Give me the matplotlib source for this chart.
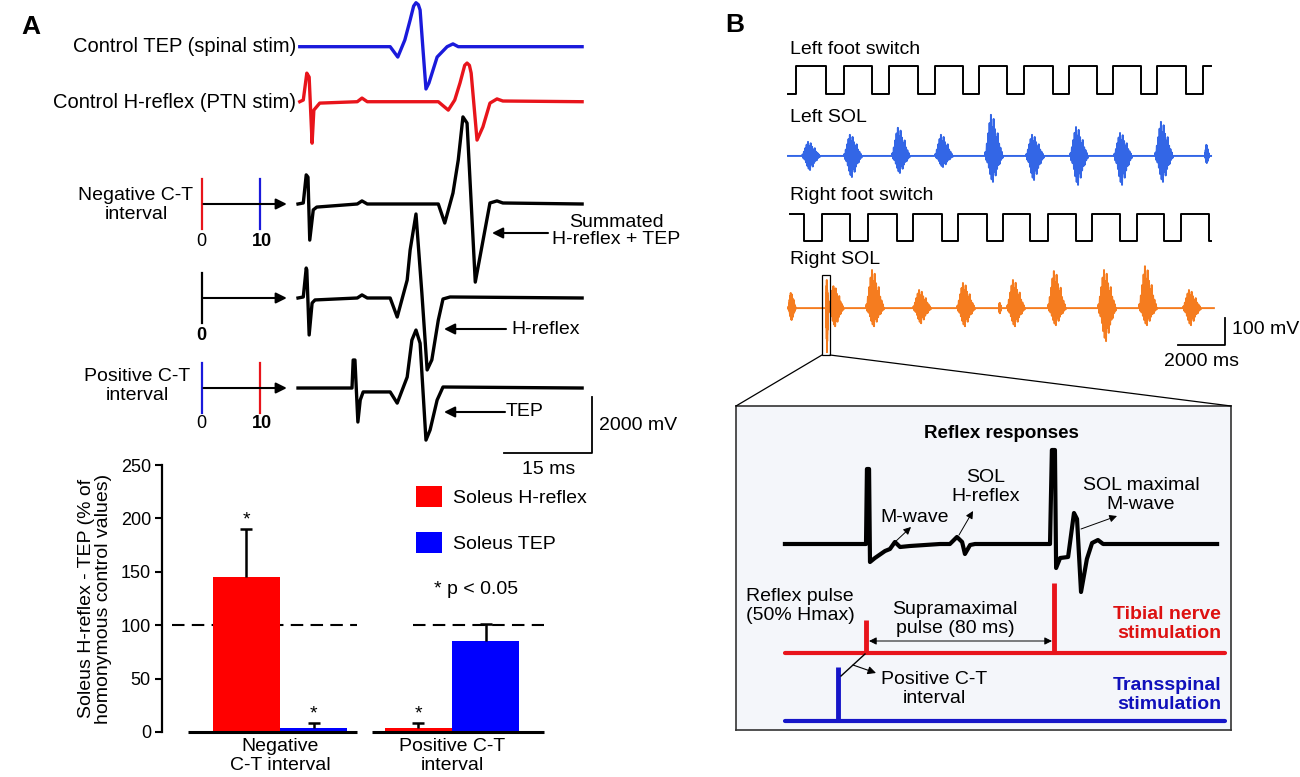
import matplotlib
matplotlib.use("Agg")
import matplotlib.pyplot as plt
import numpy as np
from matplotlib.patches import Rectangle, ConnectionPatch

plt.rcParams["font.family"] = ["Liberation Sans", "DejaVu Sans"]
plt.rcParams["font.size"] = 14

W, H = 1300, 777

# ---------------- Panel A data ----------------
# example traces, time in ms and amplitude in mV
tep_ctrl_t = [0.3, 15.7, 17.0, 18.2, 19.1, 19.7, 20.1, 20.5, 20.8, 21.3, 21.8, 22.3, 23.7, 25.4,
              26.4, 27.3, 48.4]
tep_ctrl_v = [0, 0, -370, 240, 950, 1450, 1570, 1500, 1310, -120, -1510, -1300, -370, 0,
              100, 0, 0]

h_ctrl_t = [0.3, 0.9, 1.5, 1.9, 2.4, 2.7, 3.7, 10.1, 10.9, 11.8, 23.9, 25.6, 26.7, 27.6, 28.4,
            28.8, 29.2, 29.5, 30.5, 31.5, 32.7, 33.9, 34.9, 48.4]
h_ctrl_v = [0, 60, 1020, 880, -1480, -300, -50, 0, 130, 0, 0, -300, 60, 670, 1300,
            1380, 1300, 1020, -1370, -900, -50, 100, 25, 0]

neg_ct_t = [0, 0.9, 1.4, 1.7, 2.0, 2.6, 3.2, 10.1, 10.9, 11.8, 23.9, 25.0, 26.4, 27.3, 28.1,
            28.8, 30.2, 31.0, 32.7, 33.9, 34.9, 48.4]
neg_ct_v = [0, 36, 1040, 960, -1290, -210, -110, 0, 110, 0, 0, -680, 390, 1570, 3110,
            2890, -2790, -1890, 36, 110, 36, 0]

h_only_t = [0, 0.9, 1.4, 1.5, 1.9, 2.4, 2.9, 10.1, 10.9, 11.8, 15.7, 16.9, 18.6, 19.1, 20.1,
            21.1, 22.0, 22.8, 23.9, 24.7, 25.9, 48.4]
h_only_v = [0, 36, 1070, 1000, -1320, -180, -70, 0, 110, 0, 0, -680, 640, 1710, 3000,
            180, -2570, -2210, -790, -36, 36, 0]

pos_ct_t = [0, 9.2, 9.4, 9.7, 10.2, 10.6, 11.1, 15.7, 16.9, 18.6, 19.4, 20.1, 20.8, 21.8,
            22.5, 23.7, 24.7, 48.4]
pos_ct_v = [0, 0, 1000, 1000, -1215, -430, -140, -140, -540, 390, 1710, 2070, 1600, -1860,
            -1500, -430, 36, 0]

# conditioning-test timing (ms) shown left of the three lower traces
ct_times = [[0, 10], [0], [0, 10]]
ct_colors = [["#e8141b", "#1a1adb"], ["black"], ["#1a1adb", "#e8141b"]]

# bar chart
groups = ["Negative\nC-T interval", "Positive C-T\ninterval"]
hreflex_mean = [145, 4]
hreflex_err = [45, 4]
tep_mean = [4, 85]
tep_err = [4, 16]
hreflex_sig = [True, True]
tep_sig = [True, False]

# ---------------- Panel B data ----------------
# foot switch transitions (ms) and on/off state after each one
left_fs_t = [0, 340, 1615, 2380, 3570, 4290, 5525, 6250, 7440, 8120, 9310, 10030, 11260,
             11940, 13130, 13810, 15000, 15680, 16915, 17640, 17980]
left_fs_s = [0, 1, 0, 1, 0, 1, 0, 1, 0, 1, 0, 1, 0, 1, 0, 1, 0, 1, 0, 1, 1]
right_fs_t = [85, 680, 1445, 2635, 3400, 4630, 5310, 6545, 7225, 8455, 9140, 10285, 11050,
              12240, 12920, 14110, 14830, 15980, 16700, 17890, 17980]
right_fs_s = [1, 0, 1, 0, 1, 0, 1, 0, 1, 0, 1, 0, 1, 0, 1, 0, 1, 0, 1, 0, 0]

# EMG bursts: centre (ms), width (ms), positive and negative peak (mV)
left_sol_c = [980, 2760, 4800, 6630, 8755, 10500, 12370, 14240, 15980, 17810]
left_sol_w = [720, 720, 720, 720, 720, 720, 720, 720, 720, 170]
left_sol_up = [52, 78, 104, 78, 152, 78, 107, 85, 126, 41]
left_sol_dn = [52, 78, 63, 41, 96, 89, 107, 107, 96, 26]

right_sol_c = [170, 1660, 2040, 3700, 5700, 7565, 9010, 9690, 11430, 13560, 15300, 17170]
right_sol_w = [300, 60, 620, 720, 720, 720, 80, 720, 720, 720, 720, 720]
right_sol_up = [56, 104, 81, 141, 67, 93, 19, 104, 137, 141, 155, 67]
right_sol_dn = [44, 163, 67, 67, 56, 67, 19, 67, 63, 122, 63, 63]

# spike pattern of one burst (relative heights)
burst_shape = [0.1, -0.15, 0.3, -0.25, 0.55, -0.45, 0.8, -0.7, 1.0, -0.9, 0.7, -1.0, 0.9,
               -0.6, 0.65, -0.75, 0.45, -0.5, 0.55, -0.35, 0.3, -0.3, 0.2, -0.15, 0.1, -0.08]

# inset: reflex responses (ms, arbitrary units)
reflex_t = [-34.5, 0, 0.4, 1.3, 1.7, 3.8, 8.1, 10.2, 12.3, 14.5, 18.7, 31.5, 35.7, 38.7,
            40.9, 42.1, 44.3, 46.4, 78.3, 79.1, 80.4, 80.9, 82.6, 86.0, 88.5, 89.8, 91.5,
            94.0, 96.2, 98.7, 100.9, 149.4]
reflex_v = [0, 0, 75, 75, -18, -14, -7, -5, 2, -3, -2, 0, 0, 7,
            2, -10, -1, 0, 0, 94, 94, -24, -14, -13, 31, 25, -48,
            -15, 1, 4, 0, 0]
tibial_pulse_t = [0, 80]
tibial_pulse_h = [33, 70]
spinal_pulse_t = [-12]
spinal_pulse_h = [54]

RED = "#e8141b"
BLUE = "#1a1adb"


def px_axes(fig, x0, y0, x1, y1, **kw):
    return fig.add_axes([x0 / W, 1 - y1 / H, (x1 - x0) / W, (y1 - y0) / H], **kw)


def burst_line(centres, widths, ups, downs, offset, t_start, t_end):
    n = len(burst_shape)
    shape = np.array(burst_shape)
    ts, vs = [t_start], [offset]
    for c, w, up, dn in zip(centres, widths, ups, downs):
        pos = c + (np.arange(n) / (n - 1) - 0.5) * w
        amp = np.where(shape > 0, shape * up, shape * dn)
        ts += [pos[0] - w * 0.05] + list(pos) + [pos[-1] + w * 0.05]
        vs += [offset] + list(offset + amp) + [offset]
    ts.append(t_end)
    vs.append(offset)
    return ts, vs


fig = plt.figure(figsize=(W / 100, H / 100), dpi=100)

# ---------------- Panel A traces ----------------
axA = px_axes(fig, 0, 0, 700, 460)
axA.set_xlim(-298 / 5.87, 402 / 5.87)
axA.set_ylim(0, 460 / 0.028)
axA.axis("off")

trace_off = [14761, 12796, 9143, 5786, 2571]
traces = [(tep_ctrl_t, tep_ctrl_v, BLUE), (h_ctrl_t, h_ctrl_v, RED),
          (neg_ct_t, neg_ct_v, "black"), (h_only_t, h_only_v, "black"),
          (pos_ct_t, pos_ct_v, "black")]
for (t, v, c), off in zip(traces, trace_off):
    axA.plot(t, np.array(v) + off, color=c, lw=2.4, solid_joinstyle="round")

stim_origin = -16.4
for times, cols, off in zip(ct_times, ct_colors, trace_off[2:]):
    for t, c in zip(times, cols):
        axA.plot([stim_origin + t] * 2, [off - 900, off + 900], color=c, lw=1.6)
    axA.annotate("", xy=(-1.9, off), xytext=(stim_origin + 0.3, off),
                 arrowprops=dict(arrowstyle="-|>", color="black", lw=1.5,
                                 mutation_scale=16, shrinkA=0, shrinkB=0))

# scale bar 15 ms / 2000 mV
axA.plot([50.1 - 15, 50.1, 50.1], [250, 250, 2250], color="black", lw=1.3)

# ---------------- Panel A bars ----------------
axB = px_axes(fig, 162, 465, 550, 732)
xg = np.arange(len(groups))
bw = 0.39
axB.bar(xg - bw / 2, hreflex_mean, bw, color="#ff0000", label="Soleus H-reflex", zorder=2)
axB.bar(xg + bw / 2, tep_mean, bw, color="#0000ff", label="Soleus TEP", zorder=2)
for xs, m, e, sig in [(xg - bw / 2, hreflex_mean, hreflex_err, hreflex_sig),
                      (xg + bw / 2, tep_mean, tep_err, tep_sig)]:
    eb = axB.errorbar(xs, m, yerr=[np.zeros(len(m)), e], fmt="none", ecolor="black",
                      elinewidth=1.8, capsize=4, capthick=1.8, zorder=3)
    eb[1][0].set_visible(False)  # only the upper cap
    for x, mm, ee, s in zip(xs, m, e, sig):
        if s:
            axB.text(x, mm + ee + 1, "*", ha="center", va="bottom", fontsize=14)
axB.hlines([0, 0], [-0.535, 0.535], [0.448, 1.535], color="black", lw=2.2, clip_on=False, zorder=4)
axB.hlines([100, 100], [-0.628, 0.773], [0.448, 1.535], color="black", lw=1.5,
           linestyles=(0, (6, 3.5)), clip_on=False, zorder=1)
axB.set_xlim(-0.686, 1.57)
axB.set_ylim(0, 250)
axB.set_yticks([0, 50, 100, 150, 200, 250])
axB.set_xticks([])
for s in ["top", "right", "bottom"]:
    axB.spines[s].set_visible(False)
axB.spines["left"].set_linewidth(1.6)
axB.tick_params(axis="y", length=5, width=1.5, labelsize=13, pad=3)
axB.patch.set_alpha(0)
axB.set_ylabel("Soleus H-reflex - TEP (% of\nhomonymous control values)", fontsize=14,
               labelpad=6, linespacing=1.05)
for x, g in zip(xg, groups):
    axB.text(x, -6, g, ha="center", va="top", fontsize=14, linespacing=1.15)
axB.legend(loc="upper left", bbox_to_anchor=(416 / W, 1 - 486 / H),
           bbox_transform=fig.transFigure, frameon=False, borderpad=0, borderaxespad=0,
           handlelength=1.35, handleheight=1.3, handletextpad=0.55, labelspacing=1.25,
           fontsize=14)

# ---------------- Panel B EMG ----------------
axE = px_axes(fig, 780, 40, 1240, 360)
axE.set_xlim(-340, 19210)
axE.set_ylim(0, 1184)
axE.axis("off")
fs_low = [984, 440]
fs_high = 102
for (t, s), base in zip([(left_fs_t, left_fs_s), (right_fs_t, right_fs_s)], fs_low):
    axE.step(t, base + fs_high * np.array(s), where="post", color="black", lw=1.4)

ts, vs = burst_line(left_sol_c, left_sol_w, left_sol_up, left_sol_dn, 755, 0, 17980)
axE.plot(ts, vs, color="#3366e6", lw=1.4)
ts, vs = burst_line(right_sol_c, right_sol_w, right_sol_up, right_sol_dn, 192, 0, 18100)
axE.plot(ts, vs, color="#f57c1f", lw=1.4)

axE.add_patch(Rectangle((1445, 18.5), 340, 296, fill=False, lw=0.9, ec="black", zorder=5))
axE.plot([16575, 18575, 18575], [55.5, 55.5, 155.5], color="black", lw=1.3)

# ---------------- Panel B inset ----------------
axI = px_axes(fig, 736, 406, 1231, 730)
axI.set_xlim(-130 / 2.35, 365 / 2.35)
axI.set_ylim(0, 324)
axI.set_xticks([])
axI.set_yticks([])
axI.set_facecolor("#f4f6fa")
for s in axI.spines.values():
    s.set_color("#333333")
    s.set_linewidth(1.2)

axI.plot(reflex_t, np.array(reflex_v) + 186, color="black", lw=3.0, solid_joinstyle="round")
axI.plot([-34.5, 152.8], [77, 77], color=RED, lw=3.0, solid_capstyle="round")
axI.vlines(tibial_pulse_t, 77, 77 + np.array(tibial_pulse_h), color=RED, lw=3.5)
axI.plot([-34.5, 152.8], [9, 9], color="#1515c8", lw=3.0, solid_capstyle="round")
axI.vlines(spinal_pulse_t, 9, 9 + np.array(spinal_pulse_h), color="#1515c8", lw=3.5)

for xa, xb in [((1445, 18.5), (0, 1)), ((1785, 18.5), (1, 1))]:
    fig.add_artist(ConnectionPatch(xyA=xa, coordsA=axE.transData, xyB=xb,
                                   coordsB=axI.transAxes, color="black", lw=0.9))

# ---------------- text and pointers (pixel overlay) ----------------
ov = px_axes(fig, 0, 0, W, H)
ov.set_xlim(0, W)
ov.set_ylim(H, 0)
ov.axis("off")


def txt(x, y, s, **kw):
    kw.setdefault("va", "center")
    kw.setdefault("fontsize", 14)
    ov.text(x, y, s, **kw)


def arrow(x0, y0, x1, y1, lw=1.5, ms=16, style="-|>"):
    ov.annotate("", xy=(x1, y1), xytext=(x0, y0),
                arrowprops=dict(arrowstyle=style, color="black", lw=lw,
                                mutation_scale=ms, shrinkA=0, shrinkB=0))


txt(31, 27, "A", fontsize=19, fontweight="bold", ha="center")
txt(735, 25, "B", fontsize=19, fontweight="bold", ha="center")

txt(296, 47, "Control TEP (spinal stim)", ha="right", fontsize=14.5)
txt(296, 102, "Control H-reflex (PTN stim)", ha="right", fontsize=14.5)
txt(136, 205, "Negative C-T\ninterval", ha="center", linespacing=1.15)
txt(137, 386, "Positive C-T\ninterval", ha="center", linespacing=1.15)
txt(201, 241, "0", ha="center", fontsize=13)
txt(262, 241, "10", ha="center", fontsize=13, fontweight="bold")
txt(201, 335, "0", ha="center", fontsize=13, fontweight="bold")
txt(201, 423, "0", ha="center", fontsize=13)
txt(262, 423, "10", ha="center", fontsize=13, fontweight="bold")

txt(616, 231, "Summated\nH-reflex + TEP", ha="center", linespacing=1.05)
arrow(548, 233, 492, 233)
txt(511, 329, "H-reflex", ha="left")
arrow(506, 329, 444, 329)
txt(506, 412, "TEP", ha="left")
arrow(505, 412, 444, 412)
txt(599, 426, "2000 mV", ha="left")
txt(549, 469, "15 ms", ha="center")
txt(476, 589, "* p < 0.05", ha="center")

txt(790, 50, "Left foot switch", ha="left")
txt(790, 117, "Left SOL", ha="left")
txt(790, 196, "Right foot switch", ha="left")
txt(790, 260, "Right SOL", ha="left")
txt(1232, 330, "100 mV", ha="left")
txt(1202, 361, "2000 ms", ha="center")

txt(1001, 433, "Reflex responses", ha="center", fontweight="bold", fontsize=13.5)
txt(915, 518, "M-wave", ha="center")
txt(986, 487, "SOL\nH-reflex", ha="center", linespacing=1.1)
txt(1141, 495, "SOL maximal\nM-wave", ha="center", linespacing=1.1)
arrow(895, 542, 911, 527, lw=0.7, ms=11)
arrow(959, 535, 973, 511, lw=0.7, ms=11)
arrow(1081, 529, 1117, 516, lw=0.7, ms=11)

txt(746, 606, "Reflex pulse\n(50% Hmax)", ha="left", linespacing=1.1)
txt(955, 619, "Supramaximal\npulse (80 ms)", ha="center", linespacing=1.1)
arrow(869, 641, 1052, 641, lw=0.7, ms=11, style="<|-|>")
txt(1221, 624, "Tibial nerve\nstimulation", ha="right", fontweight="bold", color="#dd1111",
    linespacing=1.1)
txt(1221, 695, "Transspinal\nstimulation", ha="right", fontweight="bold", color="#1010bb",
    linespacing=1.1)
txt(934, 689, "Positive C-T\ninterval", ha="center", linespacing=1.1)
ov.plot([865, 841], [654, 676], color="black", lw=1.0)
arrow(853, 665, 876, 673, lw=0.8, ms=12)

fig.savefig("out.png", dpi=100)
